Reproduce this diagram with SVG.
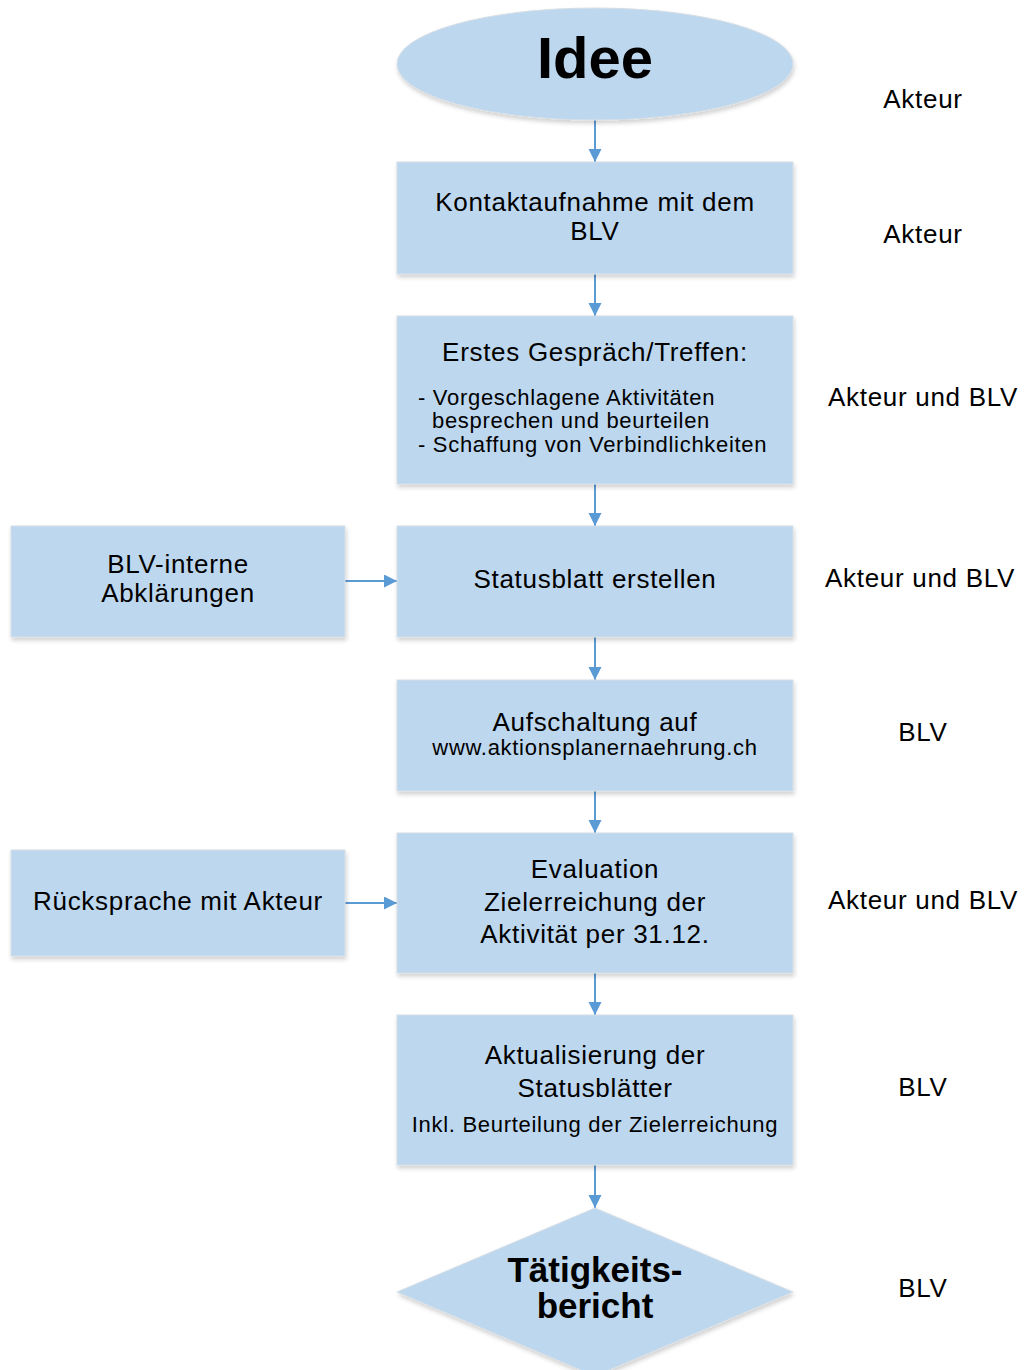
<svg xmlns="http://www.w3.org/2000/svg" width="1024" height="1370" viewBox="0 0 1024 1370">
<style>
.shape{fill:#BDD7EE;stroke:#D6DEE6;stroke-width:1;filter:url(#sh)}
.t{font-family:"Liberation Sans",Arial,sans-serif;font-size:26px;fill:#000;text-anchor:middle;letter-spacing:0.7px}
.s{font-family:"Liberation Sans",Arial,sans-serif;font-size:22px;fill:#000;letter-spacing:0.7px}
.b{font-family:"Liberation Sans",Arial,sans-serif;font-weight:bold;fill:#000;text-anchor:middle}
.lbl{font-family:"Liberation Sans",Arial,sans-serif;font-size:26px;fill:#000;text-anchor:middle;letter-spacing:0.7px}
.c{stroke:#5B9BD5;stroke-width:2;fill:none;marker-end:url(#ah)}
</style>
<defs>
<filter id="sh" x="-10%" y="-10%" width="120%" height="130%">
<feDropShadow dx="1" dy="3" stdDeviation="2" flood-color="#000" flood-opacity="0.18"/>
</filter>
<marker id="ah" markerUnits="userSpaceOnUse" markerWidth="14" markerHeight="14" refX="13" refY="6.5" orient="auto">
<path d="M0,0 L13,6.5 L0,13 Z" fill="#5B9BD5"/>
</marker>
</defs>
<rect width="1024" height="1370" fill="#fff"/>

<g id="connectors">
<line class="c" x1="595" y1="120" x2="595" y2="162"/>
<line class="c" x1="595" y1="274" x2="595" y2="316"/>
<line class="c" x1="595" y1="484" x2="595" y2="526"/>
<line class="c" x1="595" y1="637" x2="595" y2="680"/>
<line class="c" x1="595" y1="791" x2="595" y2="833"/>
<line class="c" x1="595" y1="973" x2="595" y2="1015"/>
<line class="c" x1="595" y1="1165" x2="595" y2="1208"/>
<line class="c" x1="345" y1="581" x2="397" y2="581"/>
<line class="c" x1="345" y1="903" x2="397" y2="903"/>
</g>

<g id="idee">
<ellipse class="shape" cx="595" cy="64" rx="198" ry="56"/>
<text class="b" x="595" y="78" font-size="58">Idee</text>
</g>

<g id="kontakt">
<rect class="shape" x="397" y="162" width="396" height="112"/>
<text class="t" x="595" y="211">Kontaktaufnahme mit dem</text>
<text class="t" x="595" y="240">BLV</text>
</g>

<g id="gespraech">
<rect class="shape" x="397" y="316" width="396" height="168"/>
<text class="t" x="595" y="361">Erstes Gespräch/Treffen:</text>
<text class="s" x="418" y="405">- Vorgeschlagene Aktivitäten</text>
<text class="s" x="432" y="428">besprechen und beurteilen</text>
<text class="s" x="418" y="452">- Schaffung von Verbindlichkeiten</text>
</g>

<g id="blv-intern">
<rect class="shape" x="11" y="526" width="334" height="111"/>
<text class="t" x="178" y="573">BLV-interne</text>
<text class="t" x="178" y="602">Abklärungen</text>
</g>

<g id="statusblatt">
<rect class="shape" x="397" y="526" width="396" height="111"/>
<text class="t" x="595" y="588">Statusblatt erstellen</text>
</g>

<g id="aufschaltung">
<rect class="shape" x="397" y="680" width="396" height="111"/>
<text class="t" x="595" y="731">Aufschaltung auf</text>
<text class="s" x="595" y="755" text-anchor="middle">www.aktionsplanernaehrung.ch</text>
</g>

<g id="ruecksprache">
<rect class="shape" x="11" y="850" width="334" height="106"/>
<text class="t" x="178" y="910">Rücksprache mit Akteur</text>
</g>

<g id="evaluation">
<rect class="shape" x="397" y="833" width="396" height="140"/>
<text class="t" x="595" y="878">Evaluation</text>
<text class="t" x="595" y="911">Zielerreichung der</text>
<text class="t" x="595" y="943">Aktivität per 31.12.</text>
</g>

<g id="aktualisierung">
<rect class="shape" x="397" y="1015" width="396" height="150"/>
<text class="t" x="595" y="1064">Aktualisierung der</text>
<text class="t" x="595" y="1097">Statusblätter</text>
<text class="s" x="595" y="1132" text-anchor="middle">Inkl. Beurteilung der Zielerreichung</text>
</g>

<g id="bericht">
<polygon class="shape" points="595,1208 793,1292 595,1376 397,1292"/>
<text class="b" x="595" y="1282" font-size="35">Tätigkeits-</text>
<text class="b" x="595" y="1318" font-size="35">bericht</text>
</g>

<g id="labels">
<text class="lbl" x="923" y="108">Akteur</text>
<text class="lbl" x="923" y="243">Akteur</text>
<text class="lbl" x="923" y="406">Akteur und BLV</text>
<text class="lbl" x="920" y="587">Akteur und BLV</text>
<text class="lbl" x="923" y="741">BLV</text>
<text class="lbl" x="923" y="909">Akteur und BLV</text>
<text class="lbl" x="923" y="1096">BLV</text>
<text class="lbl" x="923" y="1297">BLV</text>
</g>
</svg>
